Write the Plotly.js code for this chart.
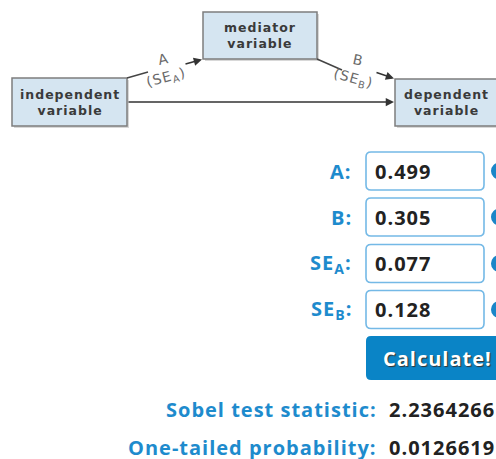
<!DOCTYPE html>
<html>
<head>
<meta charset="utf-8">
<script src="https://cdn.plot.ly/plotly-3.0.1.min.js"></script>
<style>
html,body{margin:0;padding:0;background:#fff;overflow:hidden;}
#chart{width:496px;height:459px;}
.annotation-text{letter-spacing:1px;}
</style>
</head>
<body>
<div id="chart"></div>
<script>
// ---- content ----
const nodeLabels = ['independent<br>variable', 'mediator<br>variable', 'dependent<br>variable'];
const pathLabels = ['A', '(SE<sub>A</sub>)', 'B', '(SE<sub>B</sub>)'];
const inputLabels = ['A:', 'B:', 'SE<sub>A</sub>:', 'SE<sub>B</sub>:'];
const inputValues = ['0.499', '0.305', '0.077', '0.128'];
const buttonLabel = 'Calculate!';
const resultLabels = ['Sobel test statistic:', 'One-tailed probability:'];
const resultValues = ['2.2364266', '0.0126619'];

// ---- layout geometry (pixel-like coordinates) ----
const W = 496, H = 459;
const nodeBoxes = [
  {x0: 12, x1: 127, y0: 78, y1: 126},
  {x0: 203, x1: 317, y0: 12, y1: 59},
  {x0: 395, x1: 520, y0: 79, y1: 126}
];
const nodeTextX = [69.5, 260, 446];
const inputRowsY = [171, 217, 263.5, 309.5];
const inputBoxH = 38;
const labelBlue = '#1e8bcd';

function roundRect(x0, y0, x1, y1, r) {
  return `M${x0+r},${y0} L${x1-r},${y0} Q${x1},${y0} ${x1},${y0+r} L${x1},${y1-r} Q${x1},${y1} ${x1-r},${y1} L${x0+r},${y1} Q${x0},${y1} ${x0},${y1-r} L${x0},${y0+r} Q${x0},${y0} ${x0+r},${y0} Z`;
}

const shapes = [];
const annotations = [];

// diagram boxes
nodeBoxes.forEach((b, i) => {
  shapes.push({type: 'rect', xref: 'x', yref: 'y', x0: b.x0 + 2, x1: b.x1 + 2, y0: b.y0 + 2, y1: b.y1 + 2,
    fillcolor: '#d8d8d8', line: {width: 0}, layer: 'below'});
  shapes.push({type: 'rect', xref: 'x', yref: 'y', x0: b.x0, x1: b.x1, y0: b.y0, y1: b.y1,
    fillcolor: '#d5e5f1', line: {color: '#7d7d7d', width: 1.5}});
  annotations.push({xref: 'x', yref: 'y', x: nodeTextX[i], y: (b.y0 + b.y1) / 2, text: nodeLabels[i],
    showarrow: false, xanchor: 'center', yanchor: 'middle',
    font: {family: 'DejaVu Sans', size: 12.5, color: '#3a3a3a', weight: 700}});
});

// diagram connectors (plain segments)
const segs = [[127, 78, 148, 72], [317, 59, 342, 70]];
segs.forEach(s => shapes.push({type: 'line', xref: 'x', yref: 'y', x0: s[0], y0: s[1], x1: s[2], y1: s[3],
  line: {color: '#444', width: 1.5}}));

// arrows
const arrows = [[184, 64.5, 202, 59.5], [375, 72, 394, 78.5], [127, 102, 394, 102]];
arrows.forEach(a => annotations.push({xref: 'x', yref: 'y', axref: 'x', ayref: 'y',
  ax: a[0], ay: a[1], x: a[2], y: a[3], text: '', showarrow: true,
  arrowhead: 2, arrowsize: 1.1, arrowwidth: 1.5, arrowcolor: '#333', standoff: 0}));

// path labels
const pathPos = [[163, 59, -12], [166, 78, -15], [358, 60, 12], [353, 79, 15]];
pathLabels.forEach((t, i) => annotations.push({xref: 'x', yref: 'y', x: pathPos[i][0], y: pathPos[i][1],
  text: t, showarrow: false, textangle: pathPos[i][2], xanchor: 'center', yanchor: 'middle',
  font: {family: 'DejaVu Sans', size: 14, color: '#6a6a6a'}}));

// input rows
inputLabels.forEach((t, i) => {
  const yc = inputRowsY[i];
  shapes.push({type: 'path', xref: 'x', yref: 'y',
    path: roundRect(366, yc - inputBoxH / 2, 484, yc + inputBoxH / 2, 5),
    fillcolor: '#ffffff', line: {color: '#74b9e6', width: 1.6}});
  shapes.push({type: 'circle', xref: 'x', yref: 'y', x0: 491, x1: 508, y0: yc - 8.5, y1: yc + 8.5,
    fillcolor: '#1a86c8', line: {width: 0}});
  annotations.push({xref: 'x', yref: 'y', x: 354, y: yc, text: t, showarrow: false,
    xanchor: 'right', yanchor: 'middle',
    font: {family: 'Open Sans', size: 20, color: labelBlue, weight: 700}});
  annotations.push({xref: 'x', yref: 'y', x: 373, y: yc, text: inputValues[i], showarrow: false,
    xanchor: 'left', yanchor: 'middle',
    font: {family: 'Open Sans', size: 20, color: '#222222', weight: 700}});
});

// button
shapes.push({type: 'path', xref: 'x', yref: 'y', path: roundRect(366, 336, 520, 380, 5),
  fillcolor: '#0a84c6', line: {width: 0}});
annotations.push({xref: 'x', yref: 'y', x: 381, y: 358.5, text: buttonLabel, showarrow: false,
  xanchor: 'left', yanchor: 'middle',
  font: {family: 'Open Sans', size: 20, color: '#ffffff', weight: 700, shadow: '1px 1px 1px #333'}});

// results
const resultY = [409, 447];
resultLabels.forEach((t, i) => {
  annotations.push({xref: 'x', yref: 'y', x: 379, y: resultY[i], text: t, showarrow: false,
    xanchor: 'right', yanchor: 'middle',
    font: {family: 'Open Sans', size: 20, color: labelBlue, weight: 700}});
  annotations.push({xref: 'x', yref: 'y', x: 387, y: resultY[i], text: resultValues[i], showarrow: false,
    xanchor: 'left', yanchor: 'middle',
    font: {family: 'Open Sans', size: 20, color: '#222222', weight: 700}});
});

const layout = {
  width: W, height: H,
  margin: {l: 0, r: 0, t: 0, b: 0, pad: 0},
  paper_bgcolor: '#ffffff', plot_bgcolor: '#ffffff',
  showlegend: false,
  xaxis: {range: [0, W], visible: false, fixedrange: true},
  yaxis: {range: [H, 0], visible: false, fixedrange: true},
  shapes: shapes,
  annotations: annotations
};

Plotly.newPlot('chart', [{x: [], y: [], type: 'scatter', mode: 'markers', hoverinfo: 'skip'}], layout,
  {displayModeBar: false, staticPlot: true});
</script>
</body>
</html>
